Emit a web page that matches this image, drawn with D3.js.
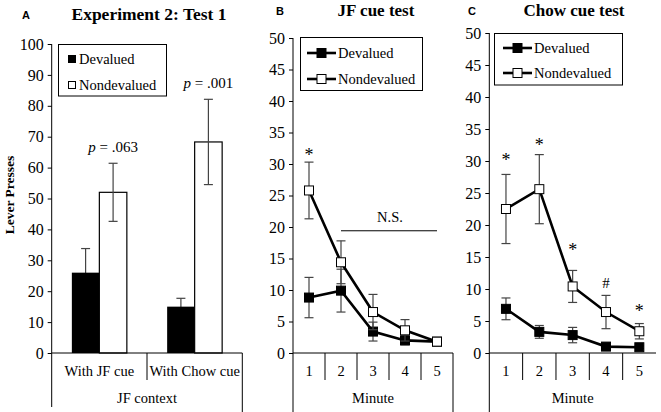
<!DOCTYPE html>
<html><head><meta charset="utf-8">
<script src="https://cdn.jsdelivr.net/npm/d3@7"></script>
<style>body{margin:0;background:#fff}svg{display:block}text{font-family:"Liberation Serif","Times New Roman",serif;fill:#000}</style>
</head><body><svg id="c" width="661" height="412" font-family="Liberation Serif"></svg>
<script>
// ---- Panel A data ----
const aCategories = ["With JF cue", "With Chow cue"];
const aSeries = ["Devalued", "Nondevalued"];
const aDevalued = [26.0, 15.0];
const aDevaluedErr = [7.8, 2.7];
const aNondevalued = [52.0, 68.3];
const aNondevaluedErr = [9.4, 13.8];
const aPLabels = ["p = .063", "p = .001"];
const aTicks = [0,10,20,30,40,50,60,70,80,90,100];

// ---- Panel B data ----
const minutes = [1,2,3,4,5];
const bDevalued = [8.8, 9.9, 3.4, 2.0, 1.8];
const bDevaluedErr = [3.2, 3.4, 1.5, 0.7, 0.3];
const bNondevalued = [25.8, 14.4, 6.5, 3.6, 1.8];
const bNondevaluedErr = [4.5, 3.4, 2.8, 1.7, 0.4];
const bMarks = [{m:1, v:31.9, t:"*"}];
const lineTicks = [0,5,10,15,20,25,30,35,40,45,50];

// ---- Panel C data ----
const cDevalued = [6.9, 3.3, 2.8, 1.0, 0.9];
const cDevaluedErr = [1.7, 1.0, 1.2, 0.3, 0.2];
const cNondevalued = [22.5, 25.6, 10.4, 6.4, 3.4];
const cNondevaluedErr = [5.4, 5.4, 2.5, 2.6, 1.2];
const cMarks = [{m:1, v:30.7, t:"*"},{m:2, v:33.0, t:"*"},{m:3, v:16.6, t:"*"},{m:4, v:10.9, t:"#"},{m:5, v:7.0, t:"*"}];

const svg = d3.select("#c");
const ERR = "#444";
const SERIF = '"Liberation Serif","Times New Roman",serif';

function yAxis(g, y, x0, ticks){
  const ax = g.append("g").attr("transform",`translate(${x0},0)`)
    .call(d3.axisLeft(y).tickValues(ticks).tickSize(4).tickSizeOuter(0).tickPadding(4));
  ax.attr("font-family", SERIF).attr("font-size", 16);
  ax.select(".domain").remove();
  ax.selectAll("line").attr("stroke","#000");
  ax.selectAll("text").style("font-family",SERIF).style("font-size","16px").attr("fill","#000");
}

function xFrame(g, x, yBase, x0, x1, labelText, seps, leftBottom, rightBottom){
  g.append("line").attr("x1",x0).attr("x2",x1).attr("y1",yBase).attr("y2",yBase).attr("stroke","#000");
  seps.forEach(s=>g.append("line").attr("x1",s).attr("x2",s).attr("y1",yBase).attr("y2",yBase+27).attr("stroke","#000"));
  g.append("line").attr("x1",x0).attr("x2",x0).attr("y1",yBase).attr("y2",leftBottom).attr("stroke","#000");
  if(rightBottom) g.append("line").attr("x1",x1).attr("x2",x1).attr("y1",yBase).attr("y2",rightBottom).attr("stroke","#000");
  g.append("text").attr("x",(x0+x1)/2).attr("y",403).attr("text-anchor","middle").style("font-size","14.5px").text(labelText);
}

// ================= Panel A =================
(function(){
  const g = svg.append("g");
  const x0 = 51.7, x1 = 242.3, yBase = 353;
  const y = d3.scaleLinear().domain([0,100]).range([353,44]);
  const x = d3.scaleBand().domain(aCategories).range([x0,x1]);
  const xs = d3.scaleBand().domain(aSeries).range([0,55]);
  const off = (x.bandwidth()-55)/2;
  g.append("line").attr("x1",x0).attr("x2",x0).attr("y1",y(100)).attr("y2",yBase).attr("stroke","#000");
  yAxis(g, y, x0, aTicks);
  const devErr = (i)=>{
    const cx = x(aCategories[i])+off+xs("Devalued")+xs.bandwidth()/2;
    const t=y(aDevalued[i]+aDevaluedErr[i]), b=y(aDevalued[i]-aDevaluedErr[i]);
    g.append("line").attr("x1",cx).attr("x2",cx).attr("y1",t).attr("y2",b).attr("stroke",ERR).attr("stroke-width",1.2);
    g.append("line").attr("x1",cx-4.5).attr("x2",cx+4.5).attr("y1",t).attr("y2",t).attr("stroke",ERR).attr("stroke-width",1.2);
  };
  aCategories.forEach((c,i)=>devErr(i));
  g.selectAll("rect.dev").data(aDevalued).join("rect")
    .attr("x",(d,i)=>x(aCategories[i])+off+xs("Devalued")).attr("width",xs.bandwidth())
    .attr("y",d=>y(d)).attr("height",d=>yBase-y(d)).attr("fill","#000");
  g.selectAll("rect.non").data(aNondevalued).join("rect")
    .attr("x",(d,i)=>x(aCategories[i])+off+xs("Nondevalued")).attr("width",xs.bandwidth())
    .attr("y",d=>y(d)).attr("height",d=>yBase-y(d)).attr("fill","#fff").attr("stroke","#000").attr("stroke-width",1.2);
  aNondevalued.forEach((d,i)=>{
    const cx = x(aCategories[i])+off+xs("Nondevalued")+xs.bandwidth()/2;
    const t=y(d+aNondevaluedErr[i]), b=y(d-aNondevaluedErr[i]);
    g.append("line").attr("x1",cx).attr("x2",cx).attr("y1",t).attr("y2",b).attr("stroke",ERR).attr("stroke-width",1.2);
    [t,b].forEach(yy=>g.append("line").attr("x1",cx-4.5).attr("x2",cx+4.5).attr("y1",yy).attr("y2",yy).attr("stroke",ERR).attr("stroke-width",1.2));
    const pt = g.append("text").attr("x",cx).attr("y",t-11).attr("text-anchor","middle").style("font-size","15px");
    const parts = aPLabels[i].split(" ");
    pt.append("tspan").style("font-style","italic").text(parts[0]);
    pt.append("tspan").text(" "+parts.slice(1).join(" "));
  });
  const seps = [x(aCategories[1])];
  xFrame(g, x, yBase, x0, x1, "JF context", seps, 407, 412);
  aCategories.forEach(c=>g.append("text").attr("x",x(c)+x.bandwidth()/2).attr("y",376).attr("text-anchor","middle").style("font-size","14.5px").text(c));
  g.append("text").attr("transform","translate(14,195) rotate(-90)").attr("text-anchor","middle").style("font-size","13.5px").style("font-weight","bold").text("Lever Presses");
  g.append("text").attr("x",149).attr("y",20).attr("text-anchor","middle").style("font-size","17.5px").style("font-weight","bold").text("Experiment 2: Test 1");
  g.append("text").attr("x",22).attr("y",19).style("font-family","Liberation Sans,Arial,sans-serif").style("font-size","11px").style("font-weight","bold").text("A");
  g.append("rect").attr("x",58.5).attr("y",44.5).attr("width",108).attr("height",51.5).attr("fill","#fff").attr("stroke","#000");
  g.append("rect").attr("x",68).attr("y",55).attr("width",8).attr("height",8).attr("fill","#000");
  g.append("rect").attr("x",68.5).attr("y",81.5).attr("width",7).attr("height",7).attr("fill","#fff").attr("stroke","#000");
  g.append("text").attr("x",79).attr("y",64).style("font-size","14.5px").text(aSeries[0]);
  g.append("text").attr("x",79).attr("y",90).style("font-size","14.5px").text(aSeries[1]);
})();

// ================= Line panels =================
function linePanel(o){
  const g = svg.append("g");
  const yBase = 353;
  const y = d3.scaleLinear().domain([0,50]).range([yBase,o.yTop]);
  const x = d3.scaleBand().domain(minutes).range([o.x0,o.x1]);
  const cx = m=>x(m)+x.bandwidth()/2;
  g.append("line").attr("x1",o.x0).attr("x2",o.x0).attr("y1",y(50)).attr("y2",yBase).attr("stroke","#000");
  yAxis(g, y, o.x0, lineTicks);
  const series = [
    {v:o.dev, e:o.devErr, fill:"#000"},
    {v:o.non, e:o.nonErr, fill:"#fff"}
  ];
  series.forEach(s=>{
    s.v.forEach((d,i)=>{
      const xx = cx(minutes[i]), t=y(d+s.e[i]), b=y(d-s.e[i]);
      g.append("line").attr("x1",xx).attr("x2",xx).attr("y1",t).attr("y2",b).attr("stroke",ERR).attr("stroke-width",1.2);
      [t,b].forEach(yy=>g.append("line").attr("x1",xx-4.5).attr("x2",xx+4.5).attr("y1",yy).attr("y2",yy).attr("stroke",ERR).attr("stroke-width",1.2));
    });
    g.append("path").datum(s.v).attr("fill","none").attr("stroke","#000").attr("stroke-width",2.6)
      .attr("d",d3.line().x((d,i)=>cx(minutes[i])).y(d=>y(d)));
    g.selectAll(null).data(s.v).join("rect")
      .attr("x",(d,i)=>cx(minutes[i])-4.5).attr("y",d=>y(d)-4.5).attr("width",9).attr("height",9)
      .attr("fill",s.fill).attr("stroke","#000").attr("stroke-width",1);
  });
  o.marks.forEach(mk=>{
    g.append("text").attr("x",cx(mk.m)).attr("y",y(mk.v)+(mk.t==="*"?9:5)).attr("text-anchor","middle")
      .style("font-size",mk.t==="*"?"18px":"15px").text(mk.t);
  });
  if(o.ns){
    const ly = y(o.ns.v);
    g.append("line").attr("x1",cx(o.ns.from)).attr("x2",cx(o.ns.to)).attr("y1",ly).attr("y2",ly).attr("stroke","#000");
    g.append("text").attr("x",(cx(o.ns.from)+cx(o.ns.to))/2+1).attr("y",ly-9).attr("text-anchor","middle").style("font-size","14.5px").text("N.S.");
  }
  const seps = minutes.slice(1).map(m=>x(m));
  xFrame(g, x, yBase, o.x0, o.x1, "Minute", seps, 412, o.rightBottom);
  minutes.forEach(m=>g.append("text").attr("x",cx(m)).attr("y",376).attr("text-anchor","middle").style("font-size","14.5px").text(m));
  g.append("text").attr("x",o.titleX).attr("y",16).attr("text-anchor","middle").style("font-size","17px").style("font-weight","bold").text(o.title);
  g.append("text").attr("x",o.letterX).attr("y",15).style("font-family","Liberation Sans,Arial,sans-serif").style("font-size","11px").style("font-weight","bold").text(o.letter);
  const L = o.leg;
  g.append("rect").attr("x",L.x).attr("y",L.y).attr("width",L.w).attr("height",L.h).attr("fill","#fff").attr("stroke","#000");
  [[L.y1,"#000","Devalued"],[L.y2,"#fff","Nondevalued"]].forEach(([yy,f,t])=>{
    g.append("line").attr("x1",L.lx).attr("x2",L.lx+29).attr("y1",yy).attr("y2",yy).attr("stroke","#000").attr("stroke-width",2.6);
    g.append("rect").attr("x",L.lx+14.5-4.5).attr("y",yy-4.5).attr("width",9).attr("height",9).attr("fill",f).attr("stroke","#000");
    g.append("text").attr("x",L.lx+31).attr("y",yy+5).style("font-size","14.5px").text(t);
  });
}

linePanel({x0:293, x1:453, yTop:38, dev:bDevalued, devErr:bDevaluedErr, non:bNondevalued, nonErr:bNondevaluedErr,
  marks:bMarks, ns:{from:2,to:5,v:19.4}, title:"JF cue test", titleX:376, letter:"B", letterX:276, rightBottom:412,
  leg:{x:300.5,y:37.5,w:122,h:53,lx:307,y1:53,y2:79}});
linePanel({x0:489.3, x1:656, yTop:33, dev:cDevalued, devErr:cDevaluedErr, non:cNondevalued, nonErr:cNondevaluedErr,
  marks:cMarks, ns:null, title:"Chow cue test", titleX:574, letter:"C", letterX:468, rightBottom:null,
  leg:{x:494.5,y:33.5,w:128,h:51.5,lx:503,y1:48,y2:73}});
</script></body></html>
